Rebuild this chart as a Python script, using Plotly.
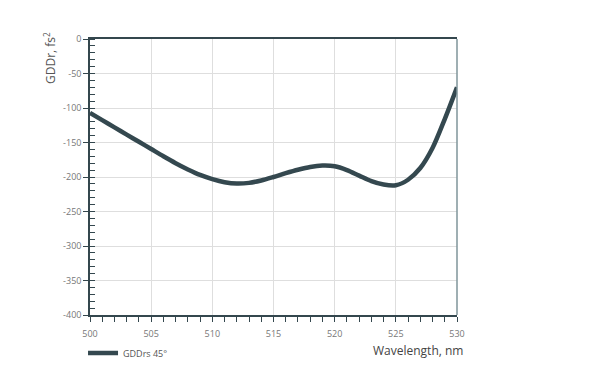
import plotly.graph_objects as go

wavelength = [500, 501, 502, 503, 504, 505, 506, 507, 508, 509, 510,
              511, 512, 513, 514, 515, 516, 517, 518, 519, 520,
              521, 522, 523, 524, 525, 526, 527, 528, 529, 530]
gdd = [-107, -117.5, -128, -138.5, -149, -159.5, -170, -180, -189, -197, -203,
       -207.5, -209.5, -208.5, -205, -200, -194.5, -189.5, -185.5, -183.5, -184.5,
       -190, -198, -206, -211, -212, -204, -187, -158, -116, -70]
series_name = "GDDrs 45°"
x_ticks = [500, 505, 510, 515, 520, 525, 530]
y_ticks = [0, -50, -100, -150, -200, -250, -300, -350, -400]

axis_col = "#34474e"
fig = go.Figure()
fig.add_trace(go.Scatter(
    x=wavelength, y=gdd, mode="lines", name=series_name,
    line=dict(color="#34484f", width=4.5, shape="spline", smoothing=0.8),
))

fig.update_layout(
    width=600, height=391,
    margin=dict(l=90, r=143, t=39, b=76),
    paper_bgcolor="white", plot_bgcolor="white",
    font=dict(family="Open Sans", color="#555"),
    showlegend=True,
    legend=dict(x=-0.019, y=-0.138, xanchor="left", yanchor="middle",
                orientation="h", font=dict(size=9, color="#555"),
                bgcolor="rgba(0,0,0,0)"),
    xaxis=dict(range=[500, 530], tickvals=x_ticks, ticktext=[str(v) for v in x_ticks],
               showgrid=True, gridcolor="#dedede", gridwidth=1,
               showline=True, linecolor=axis_col, linewidth=1.5, mirror=True,
               ticks="outside", ticklen=5, tickcolor=axis_col, tickwidth=1.2,
               tickfont=dict(size=9, color="#777"), ticklabelstandoff=4,
               minor=dict(dtick=1, ticks="outside", ticklen=5, tickcolor=axis_col, showgrid=False),
               zeroline=False),
    yaxis=dict(range=[-400, 0], tickvals=y_ticks, ticktext=[str(v) for v in y_ticks],
               showgrid=True, gridcolor="#dedede", gridwidth=1,
               showline=True, linecolor=axis_col, linewidth=1.5,
               ticks="outside", ticklen=5, tickcolor=axis_col, tickwidth=1.2,
               tickfont=dict(size=9, color="#777"),
               minor=dict(dtick=10, ticks="inside", ticklen=5, tickcolor=axis_col, showgrid=False),
               zeroline=False),
)

fig.add_shape(type="line", xref="paper", yref="paper", x0=1, x1=1, y0=0, y1=1,
              line=dict(color="#7f949a", width=1.5))
# y-axis title placed near the top of the axis, as in the reference
fig.add_annotation(text="GDDr, fs<sup>2</sup>", xref="paper", yref="paper",
                   x=(50 - 90) / 367, y=(315 - 58) / 276, xanchor="center", yanchor="middle",
                   textangle=-90, showarrow=False, font=dict(size=12, color="#555"))
fig.add_annotation(text="Wavelength, nm", xref="paper", yref="paper",
                   x=1.022, y=-0.09, xanchor="right", yanchor="top", showarrow=False,
                   font=dict(size=12, color="#444"))

fig.write_html("out.html", config={"displayModeBar": False},
               post_script="document.body.style.margin='0';")
